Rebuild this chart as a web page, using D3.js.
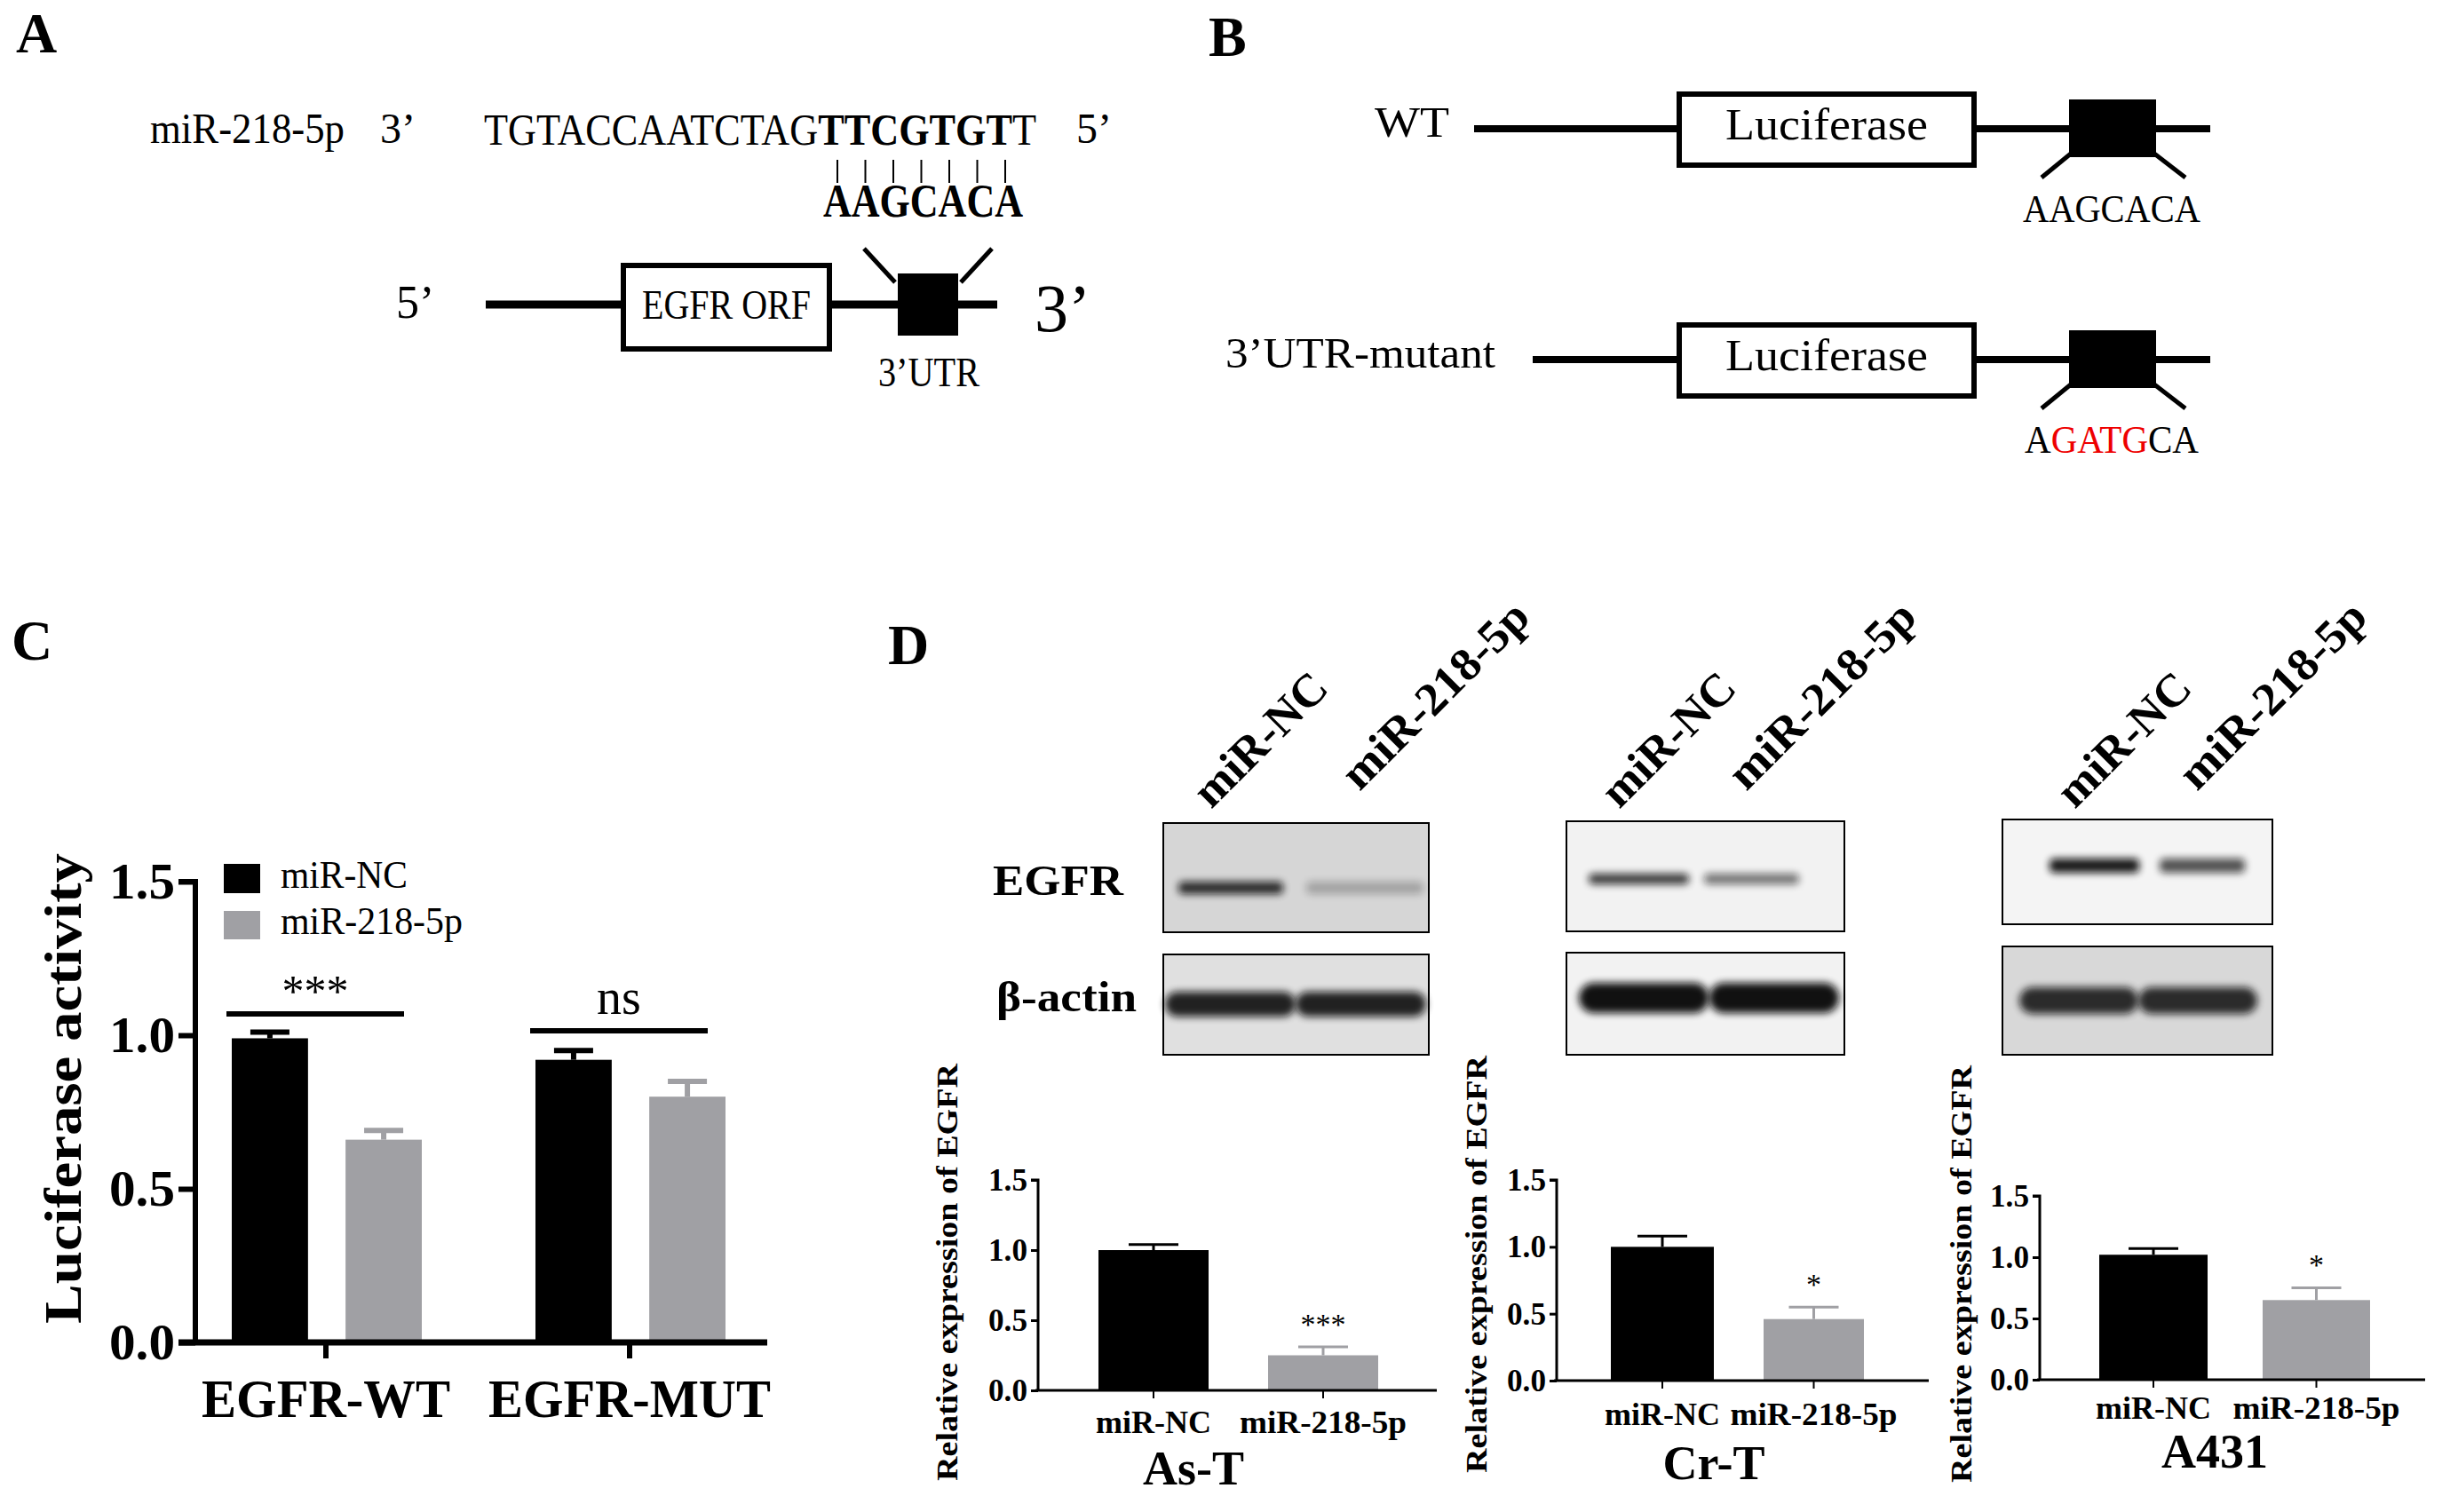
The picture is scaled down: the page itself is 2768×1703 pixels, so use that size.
<!DOCTYPE html>
<html><head><meta charset="utf-8">
<script src="https://cdn.jsdelivr.net/npm/d3@7"></script>
<style>body{margin:0;background:#fff}svg{display:block}</style>
</head><body>
<svg id="c" width="2768" height="1703"></svg>
<script>
// ---------- data ----------
const lucGroups = ["EGFR-WT", "EGFR-MUT"];
const lucSeries = ["miR-NC", "miR-218-5p"];
const lucNC = [0.99, 0.92];
const lucNCerr = [0.02, 0.03];
const lucMiR = [0.66, 0.80];
const lucMiRerr = [0.03, 0.05];
const lucSig = ["***", "ns"];
const yTicks = [0.0, 0.5, 1.0, 1.5];

const cellLines = ["As-T", "Cr-T", "A431"];
const relNC = [1.00, 1.00, 1.02];
const relNCerr = [0.04, 0.08, 0.05];
const relMiR = [0.25, 0.46, 0.65];
const relMiRerr = [0.06, 0.09, 0.10];
const relSig = ["***", "*", "*"];
const laneLabels = ["miR-NC", "miR-218-5p"];
const egfrBand = [[0.85, 0.25], [0.8, 0.55], [0.95, 0.7]];
const actinBand = [[0.9, 0.9], [0.98, 0.98], [0.85, 0.85]];

const seqMiR = "TGTACCAATCTAG", seqSeed = "TTCGTGT", seqEnd = "T";
const seedSite = "AAGCACA";
const mutSite = [["A","#000"],["GATG","#e00"],["CA","#000"]];

const BLACK = "#000", GRAY = "#a0a0a4", SERIF = "Liberation Serif, Times New Roman, serif";

const svg = d3.select("#c");
function T(x, y, s, o = {}) {
  const t = svg.append("text").attr("x", x).attr("y", y).text(s)
    .attr("font-family", SERIF).attr("font-size", o.size || 44)
    .attr("font-weight", o.bold ? "bold" : "normal")
    .attr("text-anchor", o.anchor || "start")
    .attr("dominant-baseline", o.base || "middle")
    .attr("fill", o.fill || "#000");
  if (o.len) t.attr("textLength", o.len).attr("lengthAdjust", "spacingAndGlyphs");
  if (o.rot != null) t.attr("transform", `rotate(${o.rot},${x},${y})`);
  return t;
}
function L(x1, y1, x2, y2, w = 8, col = "#000") {
  svg.append("line").attr("x1", x1).attr("y1", y1).attr("x2", x2).attr("y2", y2)
    .attr("stroke", col).attr("stroke-width", w);
}

// ---------- panel labels ----------
T(18, 44, "A", {size: 64, bold: true});
T(1361, 48, "B", {size: 64, bold: true});
T(13, 728, "C", {size: 64, bold: true});
T(1000, 733, "D", {size: 64, bold: true});

// ---------- panel A ----------
T(169, 150, "miR-218-5p", {size: 48, len: 219});
T(428, 150, "3’", {size: 48});
{
  const t = T(545, 152, "", {size: 50, len: 622});
  t.append("tspan").text(seqMiR);
  t.append("tspan").attr("font-weight", "bold").text(seqSeed);
  t.append("tspan").text(seqEnd);
}
T(1212, 150, "5’", {size: 48});
d3.range(7).forEach(i => { const x = 943 + i * 31.5; L(x, 180, x, 206, 2); });
T(927, 232, seedSite, {size: 52, bold: true, len: 225});
L(547, 343, 1123, 343, 9);
svg.append("rect").attr("x", 702).attr("y", 299).attr("width", 232).attr("height", 94)
  .attr("fill", "#fff").attr("stroke", "#000").attr("stroke-width", 6);
T(818, 348, "EGFR ORF", {size: 46, anchor: "middle", len: 190});
svg.append("rect").attr("x", 1011).attr("y", 308).attr("width", 68).attr("height", 70).attr("fill", "#000");
L(1008, 318, 973, 280, 5); L(1082, 318, 1117, 280, 5);
T(446, 346, "5’", {size: 52});
T(1165, 356, "3’", {size: 76});
T(1046, 424, "3’UTR", {size: 46, anchor: "middle", len: 114});

// ---------- panel B ----------
function construct(y, label, lx, lineStart, siteFn) {
  T(lx, y - 2, label, {size: 48, len: label === "WT" ? 84 : 304});
  L(lineStart, y, 2489, y, 8);
  svg.append("rect").attr("x", 1891).attr("y", y - 39).attr("width", 332).attr("height", 80)
    .attr("fill", "#fff").attr("stroke", "#000").attr("stroke-width", 6);
  T(2057, y + 1, "Luciferase", {size: 50, anchor: "middle", len: 228});
  svg.append("rect").attr("x", 2330).attr("y", y - 33).attr("width", 98).attr("height", 65).attr("fill", "#000");
  L(2332, y + 28, 2299, y + 55, 5); L(2426, y + 28, 2461, y + 55, 5);
  siteFn(y + 95);
}
construct(145, "WT", 1548, 1660, yy => T(2378, yy, seedSite, {size: 44, anchor: "middle", len: 200}));
construct(405, "3’UTR-mutant", 1380, 1726, yy => {
  const t = T(2378, yy, "", {size: 44, anchor: "middle", len: 196});
  mutSite.forEach(([s, c]) => t.append("tspan").attr("fill", c).text(s));
});

// ---------- panel C ----------
{
  const y = d3.scaleLinear().domain([0, 1.5]).range([1512, 993]);
  const x0 = d3.scaleBand().domain(lucGroups).range([196, 880]);
  const x1 = d3.scaleBand().domain(lucSeries).range([65, 279]).paddingInner(0.33);
  const g = svg.append("g");
  const rows = lucGroups.map((gName, i) => [
    {g: gName, s: lucSeries[0], v: lucNC[i], e: lucNCerr[i], c: BLACK},
    {g: gName, s: lucSeries[1], v: lucMiR[i], e: lucMiRerr[i], c: GRAY}]).flat();
  rows.forEach(d => {
    const bx = x0(d.g) + x1(d.s), w = x1.bandwidth(), cx = bx + w / 2;
    g.append("line").attr("x1", cx).attr("x2", cx).attr("y1", y(d.v)).attr("y2", y(d.v + d.e)).attr("stroke", d.c).attr("stroke-width", 6);
    g.append("line").attr("x1", cx - 22).attr("x2", cx + 22).attr("y1", y(d.v + d.e)).attr("y2", y(d.v + d.e)).attr("stroke", d.c).attr("stroke-width", 6);
    g.append("rect").attr("x", bx).attr("y", y(d.v)).attr("width", w).attr("height", y(0) - y(d.v)).attr("fill", d.c);
  });
  const ax = g.append("g").attr("transform", "translate(220,0)")
    .call(d3.axisLeft(y).tickValues(yTicks).tickFormat(d3.format(".1f")).tickSize(19).tickPadding(4));
  ax.select(".domain").attr("stroke-width", 6).attr("d", `M-19,${y(1.5)}H0V${y(0)}`);
  ax.selectAll(".tick line").attr("stroke-width", 6);
  ax.selectAll("text").attr("font-family", SERIF).attr("font-weight", "bold").attr("font-size", 58).attr("fill", "#000")
    .attr("textLength", 74).attr("lengthAdjust", "spacingAndGlyphs");
  L(201, 1512, 864, 1512, 7);
  lucGroups.forEach((gName, i) => {
    const cx = x0(gName) + x0.bandwidth() / 2;
    L(cx, 1512, cx, 1530, 6);
    T(cx, 1582, gName, {size: 62, bold: true, anchor: "middle", len: i === 0 ? 280 : 318});
    const l = x0(gName) + 59, r = x0(gName) + 259;
    const ly = i === 0 ? 1142 : 1161;
    L(l, ly, r, ly, 6);
    T((l + r) / 2, ly - (i === 0 ? 20 : 32), lucSig[i], {size: i === 0 ? 50 : 56, anchor: "middle"});
  });
  T(77, 1226, "Luciferase  activity", {size: 60, bold: true, anchor: "middle", rot: -90, len: 530});
  svg.append("rect").attr("x", 252).attr("y", 973).attr("width", 41).attr("height", 33).attr("fill", BLACK);
  svg.append("rect").attr("x", 252).attr("y", 1026).attr("width", 41).attr("height", 32).attr("fill", GRAY);
  T(316, 990, lucSeries[0], {size: 44, len: 143});
  T(316, 1042, lucSeries[1], {size: 44, len: 205});
}

// ---------- panel D: western blots ----------
const defs = svg.append("defs");
defs.append("filter").attr("id", "blur").attr("x", "-20%").attr("y", "-100%").attr("width", "140%").attr("height", "300%")
  .append("feGaussianBlur").attr("stdDeviation", 4);
const blots = [
  {x: 1310, w: 299, ey: 927, eh: 123, ay: 1075, ah: 113, bg: "#d6d6d6", abg: "#e0e0e0", eb: 1000, ab: 1131, bt: 14, at: 28, lane: [[1327,118],[1471,132]], abx: [1312, 1606]},
  {x: 1764, w: 313, ey: 925, eh: 124, ay: 1073, ah: 115, bg: "#f2f2f2", abg: "#f2f2f2", eb: 990, ab: 1124, bt: 12, at: 34, lane: [[1789,113],[1919,107]], abx: [1778, 2071]},
  {x: 2255, w: 304, ey: 923, eh: 118, ay: 1066, ah: 122, bg: "#f4f4f4", abg: "#d8d8d8", eb: 975, ab: 1127, bt: 16, at: 30, lane: [[2308,101],[2432,96]], abx: [2274, 2542]}
];
blots.forEach((b, i) => {
  svg.append("rect").attr("x", b.x).attr("y", b.ey).attr("width", b.w).attr("height", b.eh).attr("fill", b.bg).attr("stroke", "#000").attr("stroke-width", 2);
  svg.append("rect").attr("x", b.x).attr("y", b.ay).attr("width", b.w).attr("height", b.ah).attr("fill", b.abg).attr("stroke", "#000").attr("stroke-width", 2);
  b.lane.forEach(([lx, lw], j) => {
    svg.append("rect").attr("x", lx).attr("y", b.eb - b.bt / 2).attr("width", lw).attr("height", b.bt)
      .attr("rx", 5).attr("fill", "#111").attr("opacity", egfrBand[i][j]).attr("filter", "url(#blur)");
  });
  const mid = (b.abx[0] + b.abx[1]) / 2;
  [[b.abx[0], mid], [mid, b.abx[1]]].forEach(([a, c], j) => {
    svg.append("rect").attr("x", a).attr("y", b.ab - b.at / 2).attr("width", c - a).attr("height", b.at)
      .attr("rx", b.at / 2).attr("fill", "#111").attr("opacity", actinBand[i][j]).attr("filter", "url(#blur)");
  });
  const c1 = b.lane[0][0] + b.lane[0][1] / 2, c2 = b.lane[1][0] + b.lane[1][1] / 2;
  T(c1 - 22, 912, laneLabels[0], {size: 52, bold: true, rot: -45, base: "auto", len: 190});
  T(c2 - 6, 892, laneLabels[1], {size: 52, bold: true, rot: -45, base: "auto", len: 275});
});
T(1118, 997, "EGFR", {size: 48, bold: true, len: 147});
T(1122, 1128, "β-actin", {size: 48, bold: true, len: 158});

// ---------- panel D: small bar charts ----------
const charts = [
  {ax: 1169, right: 1618, y0: 1566, y15: 1329, bars: [[1237,124],[1428,124]], lblY: 1606, nameX: 1344, nameY: 1660, ylx: 1070, yly: 1433},
  {ax: 1753, right: 2172, y0: 1555, y15: 1329, bars: [[1814,116],[1986,113]], lblY: 1597, nameX: 1930, nameY: 1654, ylx: 1666, yly: 1424},
  {ax: 2297, right: 2731, y0: 1554, y15: 1347, bars: [[2364,122],[2548,121]], lblY: 1590, nameX: 2494, nameY: 1641, ylx: 2212, yly: 1435}
];
charts.forEach((c, i) => {
  const y = d3.scaleLinear().domain([0, 1.5]).range([c.y0, c.y15]);
  const vals = [[relNC[i], relNCerr[i], BLACK], [relMiR[i], relMiRerr[i], GRAY]];
  vals.forEach(([v, e, col], j) => {
    const [bx, w] = c.bars[j], cx = bx + w / 2;
    L(cx - 28, y(v + e), cx + 28, y(v + e), 3, col);
    L(cx, y(v), cx, y(v + e), 3, col);
    svg.append("rect").attr("x", bx).attr("y", y(v)).attr("width", w).attr("height", c.y0 - y(v)).attr("fill", col);
    L(cx, c.y0, cx, c.y0 + 9, 2);
    T(cx, c.lblY, laneLabels[j], {size: 36, bold: true, anchor: "middle", len: j === 0 ? 130 : 188});
    if (j === 1) T(cx, y(v + e) - 22, relSig[i], {size: 34, anchor: "middle"});
  });
  const g = svg.append("g").attr("transform", `translate(${c.ax},0)`)
    .call(d3.axisLeft(y).tickValues(yTicks).tickFormat(d3.format(".1f")).tickSize(8).tickPadding(4));
  g.select(".domain").attr("stroke-width", 3).attr("d", `M-8,${y(1.5)}H0V${c.y0}`);
  g.selectAll(".tick line").attr("stroke-width", 3);
  g.selectAll("text").attr("font-family", SERIF).attr("font-weight", "bold").attr("font-size", 36).attr("fill", "#000")
    .attr("textLength", 44).attr("lengthAdjust", "spacingAndGlyphs");
  L(c.ax - 3, c.y0, c.right, c.y0, 3);
  T(c.nameX, c.nameY, cellLines[i], {size: 54, bold: true, anchor: "middle"});
  T(c.ylx, c.yly, "Relative expression of EGFR", {size: 34, bold: true, anchor: "middle", rot: -90, len: 470});
});
</script>
</body></html>
